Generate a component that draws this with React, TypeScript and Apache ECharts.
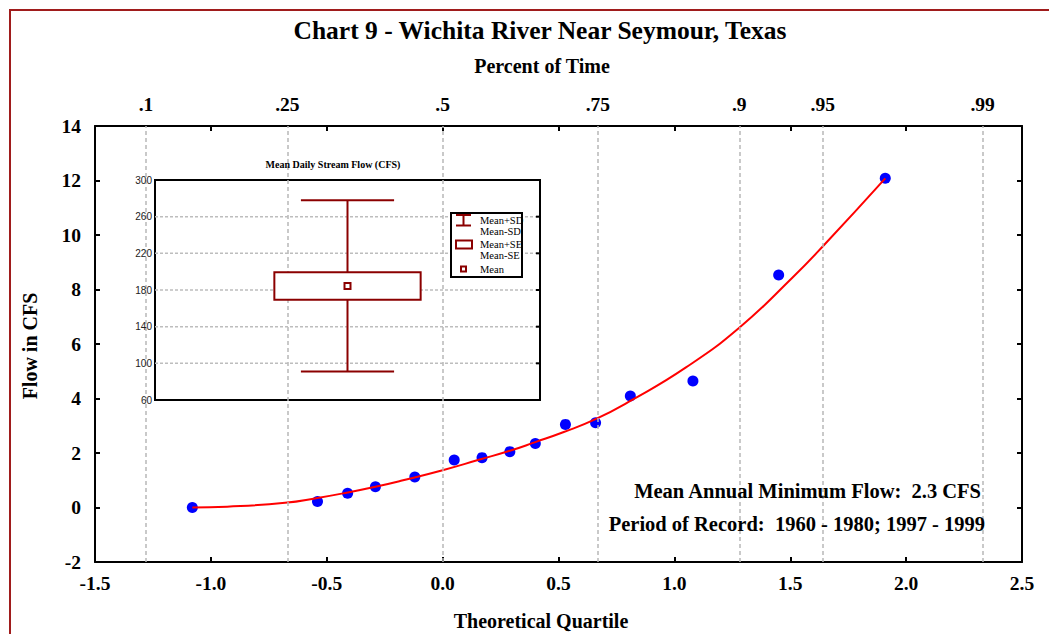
import React, { useEffect, useRef } from "react";
import * as echarts from "echarts";

// ---- data ----
const quartiles = [-1.08, -0.54, -0.41, -0.29, -0.12, 0.05, 0.17, 0.29, 0.4, 0.53, 0.66, 0.81, 1.08, 1.45, 1.91];
const flows = [0.0, 0.22, 0.52, 0.76, 1.12, 1.74, 1.83, 2.05, 2.35, 3.05, 3.11, 4.09, 4.64, 8.53, 12.08];

const fitX = [-1.08, -0.93, -0.68, -0.54, -0.41, -0.29, -0.18, 0.0, 0.16, 0.29, 0.4, 0.52, 0.66, 0.81, 1.05, 1.28, 1.51, 1.65, 1.91];
const fitY = [0.0, 0.03, 0.17, 0.35, 0.55, 0.76, 0.98, 1.37, 1.76, 2.08, 2.4, 2.76, 3.24, 3.91, 5.14, 6.6, 8.44, 9.67, 12.08];

const percentLabels = [".1", ".25", ".5", ".75", ".9", ".95", ".99"];
const percentZ = [-1.2816, -0.6745, 0, 0.6745, 1.2816, 1.6449, 2.3263];

const dailyMean = 184.5;
const dailySD = 93.5;
const dailySE = 15;
const insetGridValues = [100, 140, 180, 220, 260];

const legendLines = ["Mean+SD", "Mean-SD", "Mean+SE", "Mean-SE", "Mean"];
const noteLines = ["Mean Annual Minimum Flow:  2.3 CFS", "Period of Record:  1960 - 1980; 1997 - 1999"];

// ---- styles ----
const serif = "'Liberation Serif', 'Times New Roman', serif";
const sans = "'Liberation Sans', Arial, sans-serif";
const darkRed = "#8b0000";
const labelFont = { fontFamily: serif, fontWeight: "bold" as const, fontSize: 19.5, color: "#000" };
const nameFont = { fontFamily: serif, fontWeight: "bold" as const, fontSize: 20, color: "#000" };

function renderInset(params: any, api: any) {
  const cs = params.coordSys;
  const cx0 = api.value(0);
  const mean = api.value(1);
  const sd = api.value(2);
  const se = api.value(3);
  const top = api.coord([cx0, mean + sd]);
  const bot = api.coord([cx0, mean - sd]);
  const boxTop = api.coord([cx0, mean + se]);
  const boxBot = api.coord([cx0, mean - se]);
  const mid = api.coord([cx0, mean]);
  const capHalf = cs.width * 0.121;
  const boxHalf = cs.width * 0.19;
  const children: any[] = [];
  insetGridValues.forEach((v) => {
    const p = api.coord([cx0, v]);
    children.push({
      type: "line",
      shape: { x1: cs.x, y1: p[1], x2: cs.x + cs.width, y2: p[1] },
      style: { stroke: "#bdbdbd", lineWidth: 1.5, lineDash: [3, 2] },
    });
    children.push({
      type: "line",
      shape: { x1: cs.x + cs.width - 4, y1: p[1], x2: cs.x + cs.width, y2: p[1] },
      style: { stroke: "#000", lineWidth: 2 },
    });
  });
  const ws = { stroke: darkRed, lineWidth: 2 };
  children.push({ type: "line", shape: { x1: mid[0], y1: top[1], x2: mid[0], y2: bot[1] }, style: ws });
  children.push({ type: "line", shape: { x1: mid[0] - capHalf, y1: top[1], x2: mid[0] + capHalf, y2: top[1] }, style: ws });
  children.push({ type: "line", shape: { x1: mid[0] - capHalf, y1: bot[1], x2: mid[0] + capHalf, y2: bot[1] }, style: ws });
  children.push({
    type: "rect",
    shape: { x: mid[0] - boxHalf, y: boxTop[1], width: boxHalf * 2, height: boxBot[1] - boxTop[1] },
    style: { fill: "#fff", stroke: darkRed, lineWidth: 2 },
  });
  children.push({
    type: "rect",
    shape: { x: mid[0] - 3, y: mid[1] - 3, width: 6, height: 6 },
    style: { fill: "#fff", stroke: darkRed, lineWidth: 2 },
  });
  return { type: "group", children };
}

export default function App() {
  const ref = useRef<HTMLDivElement>(null);

  useEffect(() => {
    if (!ref.current) return;
    const chart = echarts.init(ref.current, undefined, { renderer: "svg" });

    const points = quartiles.map((q, i) => [q, flows[i]]);
    const fit = fitX.map((x, i) => [x, fitY[i]]);

    const legendGraphics: any[] = [
      { type: "rect", shape: { x: 451, y: 213, width: 71, height: 64 }, style: { fill: "#fff" }, z: 9, silent: true },
      { type: "rect", shape: { x: 451, y: 213, width: 71, height: 64 }, style: { fill: "none", stroke: "#000", lineWidth: 2 }, z: 11, silent: true },
      { type: "line", shape: { x1: 456, y1: 215, x2: 471, y2: 215 }, style: { stroke: darkRed, lineWidth: 2 }, z: 10 },
      { type: "line", shape: { x1: 456, y1: 225.5, x2: 471, y2: 225.5 }, style: { stroke: darkRed, lineWidth: 2 }, z: 10 },
      { type: "line", shape: { x1: 463.5, y1: 215, x2: 463.5, y2: 225.5 }, style: { stroke: darkRed, lineWidth: 2 }, z: 10 },
      { type: "rect", shape: { x: 456, y: 240.5, width: 16, height: 8 }, style: { fill: "#fff", stroke: darkRed, lineWidth: 2 }, z: 10 },
      { type: "rect", shape: { x: 461, y: 266.5, width: 5, height: 5 }, style: { fill: "#fff", stroke: darkRed, lineWidth: 2 }, z: 10 },
    ];
    const legendY = [220, 231, 244, 255, 269];
    legendLines.forEach((t, i) => {
      legendGraphics.push({
        type: "text",
        x: 480,
        y: legendY[i],
        z: 10,
        style: { text: t, fontFamily: serif, fontSize: 10.5, fill: "#000", align: "left", verticalAlign: "middle" },
      });
    });

    const boldText = (text: string, x: number, y: number, size: number, align = "center", rotation = 0) => ({
      type: "text",
      x,
      y,
      rotation,
      z: 10,
      silent: true,
      style: { text, fontFamily: serif, fontWeight: "bold", fontSize: size, fill: "#000", align, verticalAlign: "middle" },
    });

    const option: any = {
      animation: false,
      backgroundColor: "#fff",
      grid: [
        { left: 95, right: 27, top: 126, bottom: 72 },
        { left: 155, right: 509, top: 180, bottom: 234, show: true, backgroundColor: "#fff", borderColor: "#000", borderWidth: 2, z: 5 },
      ],
      xAxis: [
        {
          gridIndex: 0,
          type: "value",
          min: -1.5,
          max: 2.5,
          interval: 0.5,
          position: "bottom",
          axisLine: { show: true, onZero: false, lineStyle: { color: "#000", width: 2 } },
          axisTick: { show: true, inside: true, length: 5, lineStyle: { color: "#000", width: 2 } },
          axisLabel: { ...labelFont, margin: 11, formatter: (v: number) => v.toFixed(1) },
          splitLine: { show: false },
        },
        {
          gridIndex: 0,
          type: "value",
          min: -1.5,
          max: 2.5,
          interval: 0.5,
          position: "top",
          axisLine: { show: true, onZero: false, lineStyle: { color: "#000", width: 2 } },
          axisTick: { show: true, inside: true, length: 5, lineStyle: { color: "#000", width: 2 } },
          axisLabel: { show: false },
          splitLine: { show: false },
        },
        { gridIndex: 1, type: "value", min: 0, max: 1, show: false },
      ],
      yAxis: [
        {
          gridIndex: 0,
          type: "value",
          min: -2,
          max: 14,
          interval: 2,
          axisLine: { show: true, onZero: false, lineStyle: { color: "#000", width: 2 } },
          axisTick: { show: true, inside: true, length: 5, lineStyle: { color: "#000", width: 2 } },
          axisLabel: { ...labelFont, margin: 14 },
          splitLine: { show: false },
        },
        {
          gridIndex: 0,
          type: "value",
          position: "right",
          min: -2,
          max: 14,
          interval: 2,
          axisLine: { show: true, onZero: false, lineStyle: { color: "#000", width: 2 } },
          axisTick: { show: true, inside: true, length: 5, lineStyle: { color: "#000", width: 2 } },
          axisLabel: { show: false },
          splitLine: { show: false },
        },
        {
          gridIndex: 1,
          type: "value",
          min: 60,
          max: 300,
          interval: 20,
          z: 6,
          axisLine: { show: false },
          axisTick: { show: false },
          splitLine: { show: false },
          axisLabel: {
            fontFamily: sans,
            fontSize: 10,
            color: "#222",
            margin: 3,
            formatter: (v: number) => ((v - 60) % 40 === 0 ? String(v) : ""),
          },
        },
      ],
      series: [
        {
          type: "scatter",
          xAxisIndex: 0,
          yAxisIndex: 0,
          data: points,
          symbol: "circle",
          symbolSize: 11,
          itemStyle: { color: "#0000ff", opacity: 1 },
          clip: false,
          z: 2,
          silent: true,
          markLine: {
            silent: true,
            symbol: ["none", "none"],
            lineStyle: { type: [4, 3], color: "#b8b8b8", width: 1.5 },
            label: { show: true, position: "end", distance: 12, ...labelFont },
            emphasis: { disabled: true },
            data: percentZ.map((z, i) => ({ xAxis: z, label: { formatter: percentLabels[i] } })),
          },
        },
        {
          type: "line",
          xAxisIndex: 0,
          yAxisIndex: 0,
          data: fit,
          smooth: true,
          symbol: "none",
          lineStyle: { color: "#ff0000", width: 2 },
          z: 3,
          silent: true,
        },
        {
          type: "custom",
          xAxisIndex: 2,
          yAxisIndex: 2,
          data: [[0.5, dailyMean, dailySD, dailySE]],
          renderItem: renderInset,
          z: 7,
          silent: true,
        },
      ],
      graphic: [
        {
          type: "polyline",
          shape: { points: [[10, 660], [10, 10], [1070, 10]] },
          style: { fill: "none", stroke: "#a01c1c", lineWidth: 2 },
          z: 1,
          silent: true,
        },
        { type: "rect", shape: { x: 112, y: 152, width: 440, height: 263 }, style: { fill: "#fff" }, z: 4, silent: true },
        boldText("Chart 9 - Wichita River Near Seymour, Texas", 540, 30, 25.5),
        boldText("Percent of Time", 542, 66, 20),
        boldText("Theoretical Quartile", 541, 621, 20),
        boldText("Flow in CFS", 30, 346, 20, "center", Math.PI / 2),
        {
          type: "text",
          x: 333,
          y: 164,
          z: 6,
          style: {
            text: "Mean Daily Stream Flow (CFS)",
            fontFamily: serif,
            fontWeight: "bold",
            fontSize: 10,
            fill: "#000",
            align: "center",
            verticalAlign: "middle",
          },
        },
        ...legendGraphics,
        boldText(noteLines[0], 981, 491, 20.5, "right"),
        boldText(noteLines[1], 985, 524, 20.5, "right"),
      ],
    };

    chart.setOption(option);
    return () => chart.dispose();
  }, []);

  return <div ref={ref} style={{ position: "fixed", left: 0, top: 0, width: 1049, height: 634 }} />;
}
